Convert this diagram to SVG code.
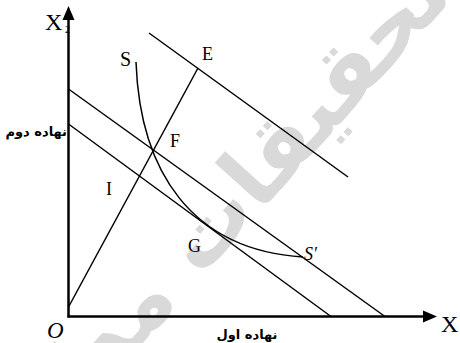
<svg xmlns="http://www.w3.org/2000/svg" width="460" height="343" viewBox="0 0 460 343">
<style>
.ln{stroke:#000;stroke-width:1.5;fill:none}
.ax{stroke:#000;stroke-width:2.5;fill:none}
.lb{font-family:"Liberation Serif","Times New Roman",serif;fill:#000}
.fa{font-family:"DejaVu Sans",sans-serif;font-weight:bold;font-size:13px;fill:#000}
.wm{font-family:"DejaVu Sans",sans-serif;font-weight:bold;font-size:88px;fill:#d9d9d9}
</style>
<rect width="460" height="343" fill="#fff"/>
<g id="watermark" transform="translate(455,-4) rotate(-48)">
<text class="wm" x="0" y="0" text-anchor="end">تحقیقات مدل سازی</text>
</g>
<g id="labels">
<text class="lb" x="45" y="30" font-size="24">X</text>
<text class="lb" x="65" y="33" font-size="10">2</text>
<text class="lb" x="441" y="332" font-size="24">X</text>
<text class="lb" x="47" y="338" font-size="23" font-style="italic">O</text>
<text class="fa" x="67" y="136" text-anchor="end">نهاده دوم</text>
<text class="fa" x="247" y="339" text-anchor="middle">نهاده اول</text>
</g>
<g id="axes">
<line class="ax" x1="68.5" y1="18" x2="68.5" y2="317.5"/>
<polygon points="68.5,6 62.5,20 74.5,20" fill="#000"/>
<line class="ax" x1="67.5" y1="316.5" x2="425" y2="316.5"/>
<polygon points="437,316.5 423,310.5 423,322.5" fill="#000"/>
</g>
<g id="connectors">
<line id="line-E" class="ln" x1="149" y1="33" x2="348" y2="177"/>
<line id="line-mid" class="ln" x1="68.5" y1="89" x2="385" y2="316.5"/>
<line id="line-low" class="ln" x1="68.5" y1="124" x2="331" y2="316.5"/>
<line id="ray-OE" class="ln" x1="68.5" y1="307" x2="198" y2="68"/>
<path id="curve-SS" class="ln" d="M136,62 C140,172 192,250 303,257"/>
</g>
<g id="node-S"><text class="lb" x="120" y="66" font-size="20">S</text></g>
<g id="node-E"><text class="lb" x="202" y="60" font-size="18">E</text></g>
<g id="node-F"><text class="lb" x="170" y="147" font-size="18">F</text></g>
<g id="node-I"><text class="lb" x="106" y="195" font-size="18">I</text></g>
<g id="node-G"><text class="lb" x="188" y="252" font-size="18">G</text></g>
<g id="node-S2"><text class="lb" x="304" y="260" font-size="18" font-style="italic">S′</text></g>
</svg>
